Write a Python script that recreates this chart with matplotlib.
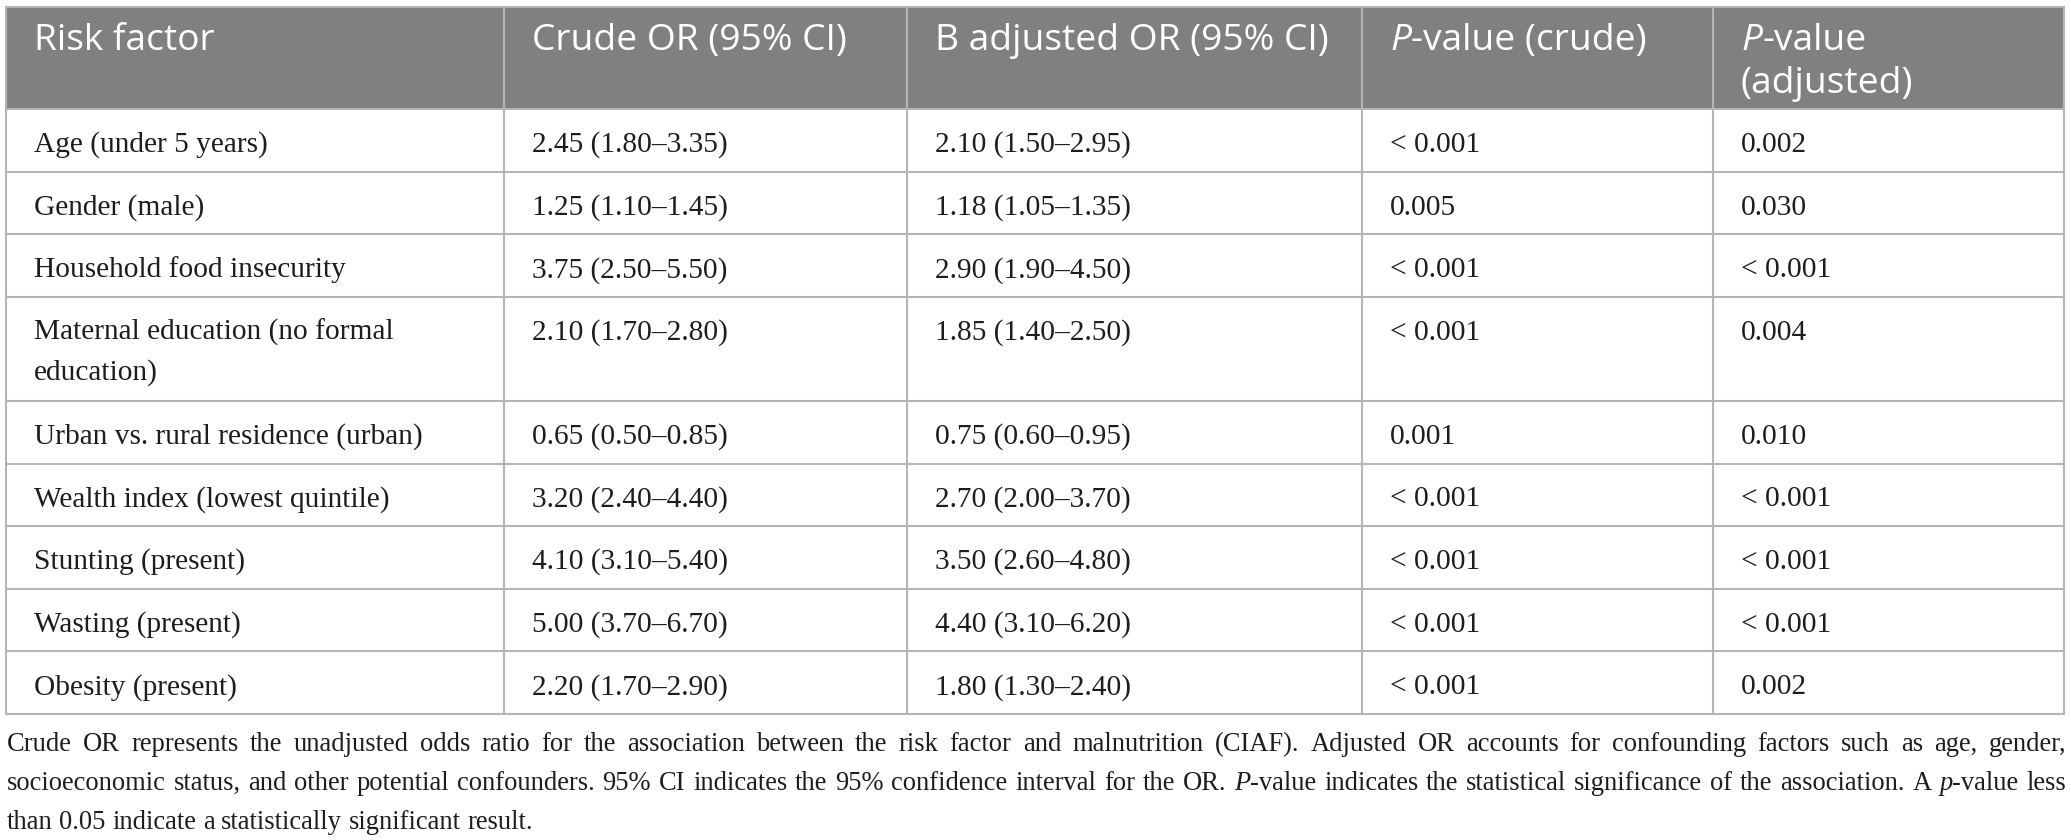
import matplotlib
matplotlib.use('Agg')
import matplotlib.pyplot as plt
from matplotlib.patches import Rectangle

# ---------------- data ----------------
headers = ["Risk factor", "Crude OR (95% CI)", "B adjusted OR (95% CI)",
           "*P*-value (crude)", "*P*-value\n(adjusted)"]
risk_factors = ["Age (under 5 years)", "Gender (male)", "Household food insecurity",
                "Maternal education (no formal\neducation)",
                "Urban vs. rural residence (urban)", "Wealth index (lowest quintile)",
                "Stunting (present)", "Wasting (present)", "Obesity (present)"]
crude_or = ["2.45 (1.80–3.35)", "1.25 (1.10–1.45)", "3.75 (2.50–5.50)", "2.10 (1.70–2.80)",
            "0.65 (0.50–0.85)", "3.20 (2.40–4.40)", "4.10 (3.10–5.40)", "5.00 (3.70–6.70)",
            "2.20 (1.70–2.90)"]
adjusted_or = ["2.10 (1.50–2.95)", "1.18 (1.05–1.35)", "2.90 (1.90–4.50)", "1.85 (1.40–2.50)",
               "0.75 (0.60–0.95)", "2.70 (2.00–3.70)", "3.50 (2.60–4.80)", "4.40 (3.10–6.20)",
               "1.80 (1.30–2.40)"]
p_crude = ["< 0.001", "0.005", "< 0.001", "< 0.001", "0.001", "< 0.001", "< 0.001",
           "< 0.001", "< 0.001"]
p_adjusted = ["0.002", "0.030", "< 0.001", "0.004", "0.010", "< 0.001", "< 0.001",
              "< 0.001", "0.002"]
footnote = [
    "Crude OR represents the unadjusted odds ratio for the association between the risk factor and malnutrition (CIAF). Adjusted OR accounts for confounding factors such as age, gender,",
    "socioeconomic status, and other potential confounders. 95% CI indicates the 95% confidence interval for the OR. *P*-value indicates the statistical significance of the association. A *p*-value less",
    "than 0.05 indicate a statistically significant result.",
]

# ---------------- layout ----------------
W, H = 2071, 840
col_edges = [6, 504, 907, 1362, 1713, 2064]
top = 7
header_h = 102
row_h = 62.6
extra_line_h = 41.5
pad_x = 28
base_off = 43
line_gap_body = 40
line_gap_head = 43
HEAD_BG = '#808080'
GRID = '#b5b5b5'
HEAD_FONT = 'Open Sans'
BODY_FONT = 'Liberation Serif'
BODY_COLOR = '#1f1c1d'

fig = plt.figure(figsize=(W / 100, H / 100), dpi=100)
ax = fig.add_axes([0, 0, 1, 1])
ax.set_xlim(0, W)
ax.set_ylim(H, 0)
ax.axis('off')
fig.patch.set_facecolor('white')
renderer = fig.canvas.get_renderer()


def measure(s, family, fs, style='normal'):
    t = ax.text(0, 0, s, fontsize=fs, family=family, style=style)
    w = t.get_window_extent(renderer).width
    t.remove()
    return w


def fit(s, family, target):
    return 20 * target / measure(s, family, 20)


head_fs = fit("B adjusted OR (95% CI)", HEAD_FONT, 393)
body_fs = fit("Urban vs. rural residence (urban)", BODY_FONT, 390)
foot_fs = fit(footnote[-1], BODY_FONT, 526)


def draw_segments(x, y, s, family, fs, color):
    """draw text with *italic* markers, left-aligned at baseline y; returns width, objects"""
    parts = s.split('*')
    cx = x
    objs = []
    for i, p in enumerate(parts):
        if not p:
            continue
        t = ax.text(cx, y, p, fontsize=fs, family=family, color=color,
                    style='italic' if i % 2 else 'normal', va='baseline', ha='left')
        w = t.get_window_extent(renderer).width
        cx += w
        objs.append(t)
    return cx - x, objs


def draw_cell(x, y_top, s, family, fs, color, gap):
    for k, line in enumerate(s.split('\n')):
        draw_segments(x, y_top + base_off + k * gap, line, family, fs, color)


# row heights
columns = [risk_factors, crude_or, adjusted_or, p_crude, p_adjusted]
n_rows = len(risk_factors)
heights = []
for i in range(n_rows):
    nl = max(col[i].count('\n') + 1 for col in columns)
    heights.append(row_h + (nl - 1) * extra_line_h)
row_tops = [top + header_h]
for h in heights:
    row_tops.append(row_tops[-1] + h)
bottom = row_tops[-1]

# header background
ax.add_patch(Rectangle((col_edges[0], top), col_edges[-1] - col_edges[0], header_h,
                       facecolor=HEAD_BG, edgecolor='none', zorder=0))

# grid lines
lw = 1.5
for y in [top] + row_tops:
    ax.plot([col_edges[0], col_edges[-1]], [y, y], color=GRID, lw=lw, zorder=1,
            solid_capstyle='projecting')
for x in col_edges:
    ax.plot([x, x], [top, bottom], color=GRID, lw=lw, zorder=1, solid_capstyle='projecting')

# header text
for j, h in enumerate(headers):
    draw_cell(col_edges[j] + pad_x, top, h, HEAD_FONT, head_fs, 'white', line_gap_head)

# body text
for i in range(n_rows):
    for j, col in enumerate(columns):
        draw_cell(col_edges[j] + pad_x, row_tops[i], col[i], BODY_FONT, body_fs,
                  BODY_COLOR, line_gap_body)

# footnote (justified)
fx0, fx1 = 7, 2066
f_base = [751, 790, 829]
space_w = measure('a a', BODY_FONT, foot_fs) - measure('aa', BODY_FONT, foot_fs)
# make sure the justified lines fit with at least a thin space
for line in footnote[:-1]:
    words = line.split(' ')
    nat = sum(measure(p, BODY_FONT, foot_fs) for wd in words for p in wd.split('*') if p)
    need = nat + 0.6 * space_w * (len(words) - 1)
    if need > fx1 - fx0:
        foot_fs *= (fx1 - fx0) / need
        space_w = measure('a a', BODY_FONT, foot_fs) - measure('aa', BODY_FONT, foot_fs)

for li, line in enumerate(footnote):
    words = line.split(' ')
    placed = []
    total = 0
    for wd in words:
        w, objs = draw_segments(0, f_base[li], wd, BODY_FONT, foot_fs, BODY_COLOR)
        placed.append((w, objs))
        total += w
    if li < len(footnote) - 1:
        gap = (fx1 - fx0 - total) / (len(words) - 1)
    else:
        gap = space_w
    cx = fx0
    for w, objs in placed:
        for t in objs:
            t.set_x(t.get_position()[0] + cx)
        cx += w + gap

fig.savefig('out.png', dpi=100, facecolor='white')
